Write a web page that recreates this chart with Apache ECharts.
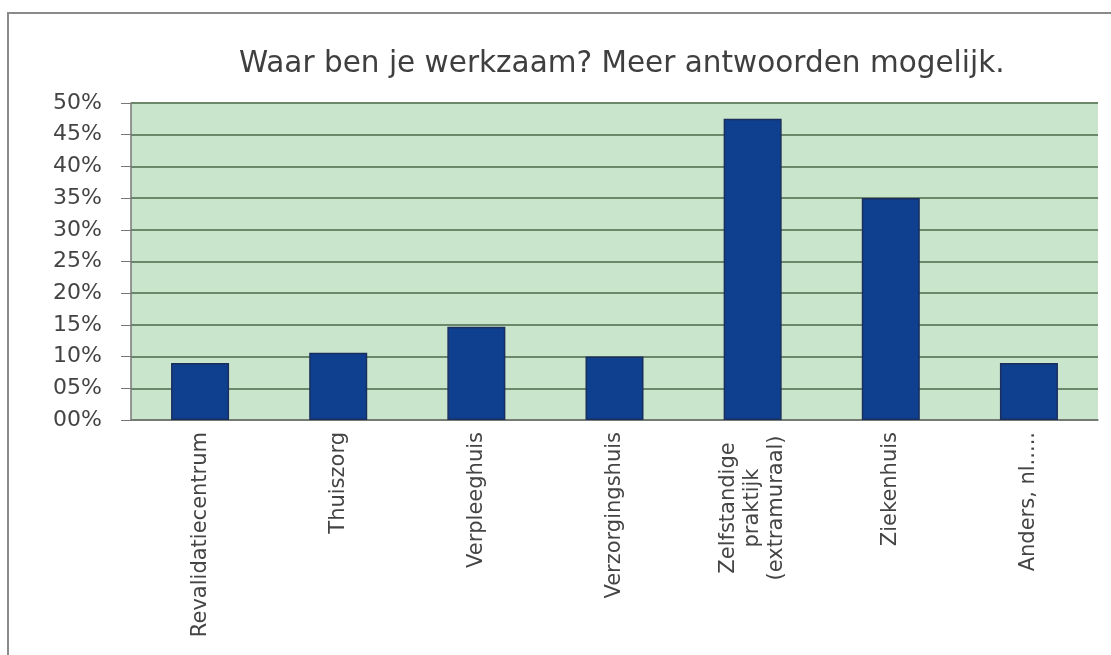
<!DOCTYPE html>
<html>
<head>
<meta charset="utf-8">
<script src="https://cdn.jsdelivr.net/npm/echarts@6/dist/echarts.min.js"></script>
<style>
  html, body { margin: 0; padding: 0; background: #fff; }
  #chart { width: 1111px; height: 655px; }
</style>
</head>
<body>
<div id="chart"></div>
<script>
const categories = [
  'Revalidatiecentrum',
  'Thuiszorg',
  'Verpleeghuis',
  'Verzorgingshuis',
  'Zelfstandige\npraktijk\n(extramuraal)',
  'Ziekenhuis',
  'Anders, nl.....'
]
const percentages = [9.0, 10.6, 14.7, 10.0, 47.5, 35.0, 9.0]

// multi-line labels are centred line by line, like the original
function catLabel(val) {
  if (val.indexOf('\n') < 0) return val
  return val.split('\n').map(s => '{c|' + s + '}').join('\n')
}

const chart = echarts.init(document.getElementById('chart'))
chart.setOption({
  animation: false,
  textStyle: { fontFamily: 'DejaVu Sans' },
  title: {
    text: 'Waar ben je werkzaam? Meer antwoorden mogelijk.',
    left: 234,
    top: 44,
    textStyle: { fontSize: 29.5, fontWeight: 'normal', color: '#3f3f3f' }
  },
  graphic: [{
    type: 'rect',
    shape: { x: 8, y: 13, width: 1150, height: 700 },
    style: { fill: 'none', stroke: '#8a8a8a', lineWidth: 2 },
    silent: true
  }],
  grid: {
    left: 131,
    right: 13,
    top: 103,
    bottom: 235,
    show: true,
    backgroundColor: '#c9e6cd',
    borderWidth: 0
  },
  xAxis: {
    type: 'category',
    data: categories,
    axisLine: { lineStyle: { color: '#777', width: 1.5 } },
    axisTick: { length: 6, lineStyle: { color: '#777' } },
    axisLabel: {
      rotate: 90,
      interval: 0,
      margin: 12,
      fontSize: 21,
      lineHeight: 24,
      color: '#444',
      formatter: catLabel,
      rich: {
        c: { fontSize: 21, lineHeight: 24, color: '#444', width: 152, align: 'center' }
      }
    }
  },
  yAxis: {
    type: 'value',
    min: 0,
    max: 50,
    interval: 5,
    axisLine: { show: true, lineStyle: { color: '#777', width: 1.5 } },
    axisTick: { show: true, length: 10, lineStyle: { color: '#777' } },
    splitLine: { lineStyle: { color: '#6b886b', width: 2 } },
    axisLabel: {
      fontSize: 22,
      margin: 29,
      color: '#444',
      formatter: v => String(v).padStart(2, '0') + '%'
    }
  },
  series: [{
    type: 'bar',
    data: percentages,
    barWidth: '42%',
    itemStyle: { color: '#0f3f8f', borderColor: '#1b2f5e', borderWidth: 1.5 }
  }]
})
</script>
</body>
</html>
